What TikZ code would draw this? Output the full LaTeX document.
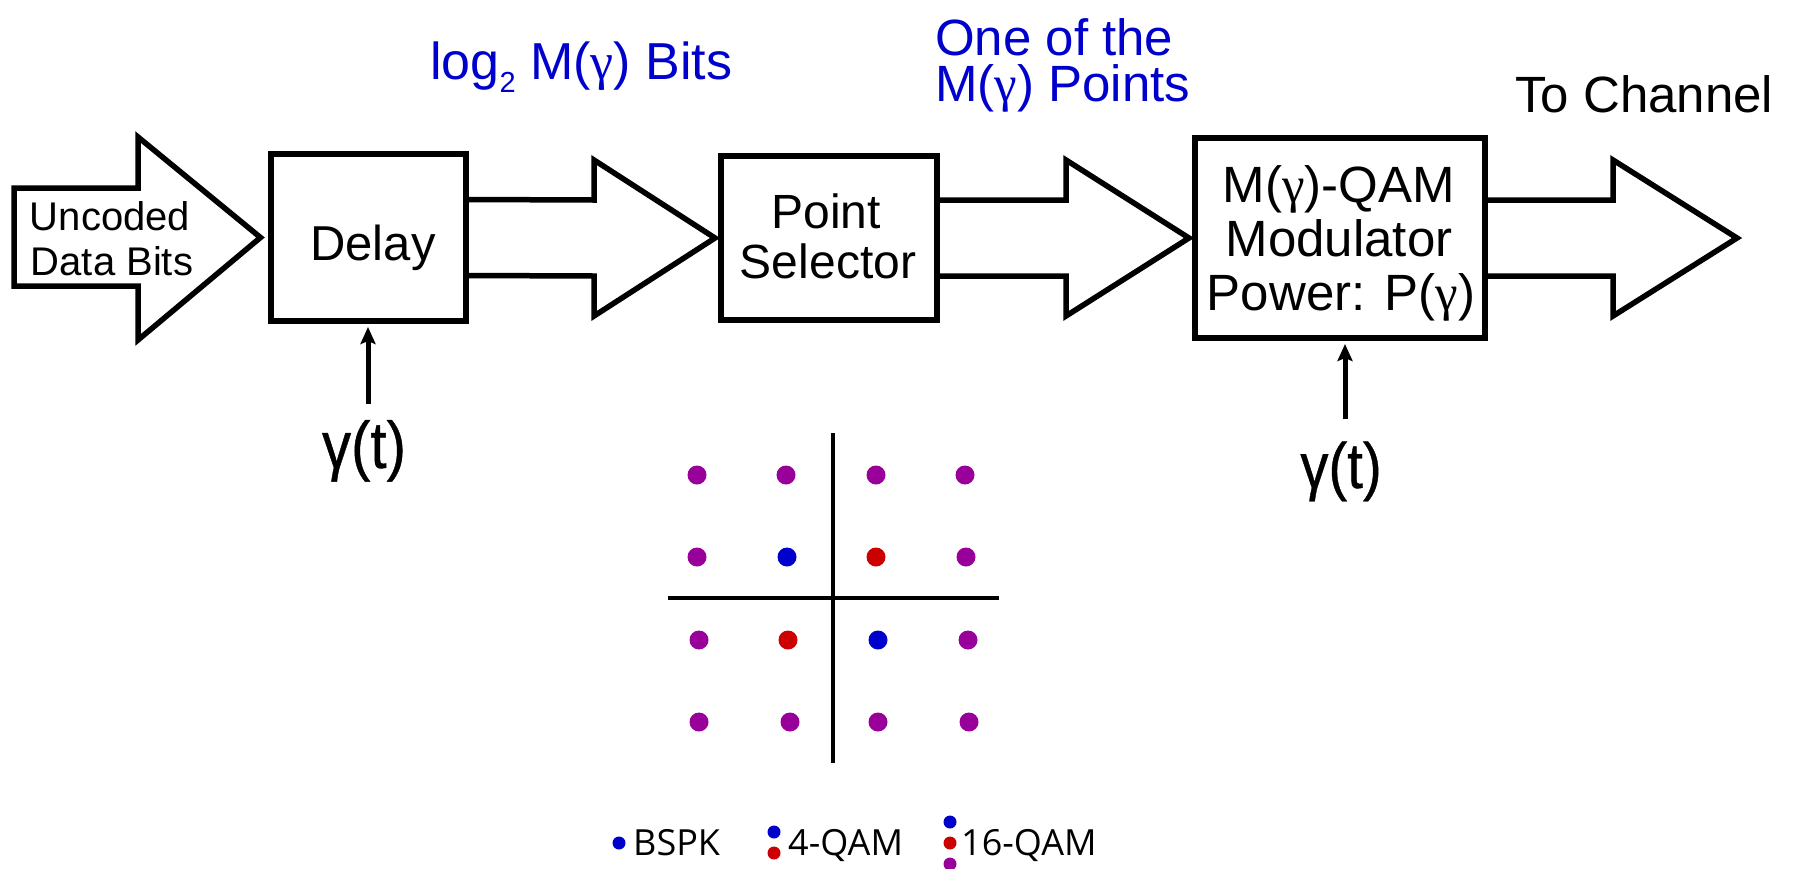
\documentclass[tikz,border=0pt]{standalone}
\usepackage{fontspec}
\setmainfont{Liberation Sans}
\newfontfamily\legendfont{Open Sans}
\newfontfamily\greekserif{Liberation Serif}
\newfontfamily\narrowfont{Liberation Sans}[FakeStretch=0.88,FakeBold=0.6]
\newcommand{\gm}{{\greekserif γ}}
\newcommand{\fs}[1]{\fontsize{#1}{#1}\selectfont}
\usetikzlibrary{arrows.meta,calc}
\definecolor{tblue}{RGB}{0,0,204}
\definecolor{dblue}{RGB}{0,0,204}
\definecolor{dred}{RGB}{204,0,0}
\definecolor{dpurple}{RGB}{153,0,153}
\begin{document}
\begin{tikzpicture}[x=1pt,y=-1pt,
  blk/.style={draw=black, line width=5.5pt},
  boxst/.style={draw=black, line width=6pt, fill=white, inner sep=0pt},
  txt/.style={inner sep=0pt, anchor=base},
  ctl/.style={line width=5pt, -{Stealth[length=17pt,width=15pt,inset=3pt]}, shorten >=3pt},
  axisline/.style={line width=4.5pt},
]
\useasboundingbox (0,0) rectangle (1796,868);

% boxes
\node[boxst, minimum width=195pt, minimum height=167pt] (delay) at (368,237.5) {};
\node[boxst, minimum width=216pt, minimum height=164pt] (ps) at (829,238) {};
\node[boxst, minimum width=290pt, minimum height=200pt] (mod) at (1340,238) {};
\coordinate (chantip) at (1737,238);

% block arrows
\draw[blk] (14,188) -- (138,188) -- (138,137) -- ($(delay.west)+(-7,0)$) -- (138,340) -- (138,286) -- (14,286) -- cycle;
\draw[blk] ($(delay.east)+(0,-38)$) -- (594,200) -- (594,160) -- ($(ps.west)+(-3,0)$) -- (594,316) -- (594,276) -- ($(delay.east)+(0,38)$);
\draw[blk] ($(ps.east)+(0,-38)$) -- (1066,200) -- (1066,160) -- ($(mod.west)+(-3,0)$) -- (1066,316) -- (1066,276) -- ($(ps.east)+(0,38)$);
\draw[blk] ($(mod.east)+(0,-38)$) -- (1613,200) -- (1613,160) -- (chantip) -- (1613,316) -- (1613,276) -- ($(mod.east)+(0,38)$);

% redraw boxes over arrow ends
\node[boxst, minimum width=195pt, minimum height=167pt] at (delay) {};
\node[boxst, minimum width=216pt, minimum height=164pt] at (ps) {};
\node[boxst, minimum width=290pt, minimum height=200pt] at (mod) {};

% texts in blocks
\node[txt, font={\fs{40}}] (unc1) at (110,230) {Uncoded};
\node[txt, font={\fs{40}}] (unc2) at (112,275) {Data Bits};
\node[txt, font={\fs{49}}] (delaytxt) at (373,260) {Delay};
\node[txt, font={\fs{48}}] (ps1) at (826,228) {Point};
\node[txt, font={\fs{48}}] (ps2) at (828,278) {Selector};
\node[txt, font={\fs{51}}] (m1) at (1339,202) {M(\gm)-QAM};
\node[txt, font={\fs{51}}] (m2) at (1339,256) {Modulator};
\node[txt, font={\fs{51}}] (m3) at (1341,310) {Power: P(\gm)};

% top labels
\node[txt, anchor=base west, text=tblue, font={\fs{52}}] (bits) at (430,79) {log\raisebox{-13pt}{\fs{29}2} M(\gm) Bits};
\node[txt, anchor=base west, text=tblue, font={\fs{51}}] (one1) at (935,55) {One of the};
\node[txt, anchor=base west, text=tblue, font={\fs{51}}] (one2) at (935,101) {M(\gm) Points};
\node[txt, anchor=base west, font={\fs{51}}] (chan) at (1515,112) {To Channel};

% gamma inputs
\node[txt, font={\narrowfont\fs{66}}] (g1) at (364,468) {γ(t)};
\node[txt, font={\narrowfont\fs{64}}] (g2) at (1341,488) {γ(t)};
\draw[ctl] ($(delay.south |- g1.north)+(0,-16)$) -- (delay.south);
\draw[ctl] ($(mod.south |- g2.north)+(5,-22)$) -- ($(mod.south)+(5,0)$);

% constellation
\draw[axisline] (833,433) -- (833,763);
\draw[axisline] (668,598) -- (999,598);
\foreach \x in {697,786,876,965} \fill[dpurple] (\x,475) circle (9.5);
\fill[dpurple] (697,557) circle (9.5);
\fill[dblue]   (787,557) circle (9.5);
\fill[dred]    (876,557) circle (9.5);
\fill[dpurple] (966,557) circle (9.5);
\fill[dpurple] (699,640) circle (9.5);
\fill[dred]    (788,640) circle (9.5);
\fill[dblue]   (878,640) circle (9.5);
\fill[dpurple] (968,640) circle (9.5);
\foreach \x in {699,790,878,969} \fill[dpurple] (\x,722) circle (9.5);

% legend
\fill[dblue] (619,843) circle (6.5);
\node[txt, anchor=base west, font={\legendfont\fs{36}}] (lg1) at (633,855) {BSPK};
\fill[dblue] (774,832) circle (6.5);
\fill[dred]  (774,853) circle (6.5);
\node[txt, anchor=base west, font={\legendfont\fs{36}}] (lg2) at (788,855) {4-QAM};
\fill[dblue]   (950,822) circle (6.5);
\fill[dred]    (950,843) circle (6.5);
\fill[dpurple] (950,864) circle (6.5);
\node[txt, anchor=base west, font={\legendfont\fs{36}}] (lg3) at (961,855) {16-QAM};
\end{tikzpicture}
\end{document}
